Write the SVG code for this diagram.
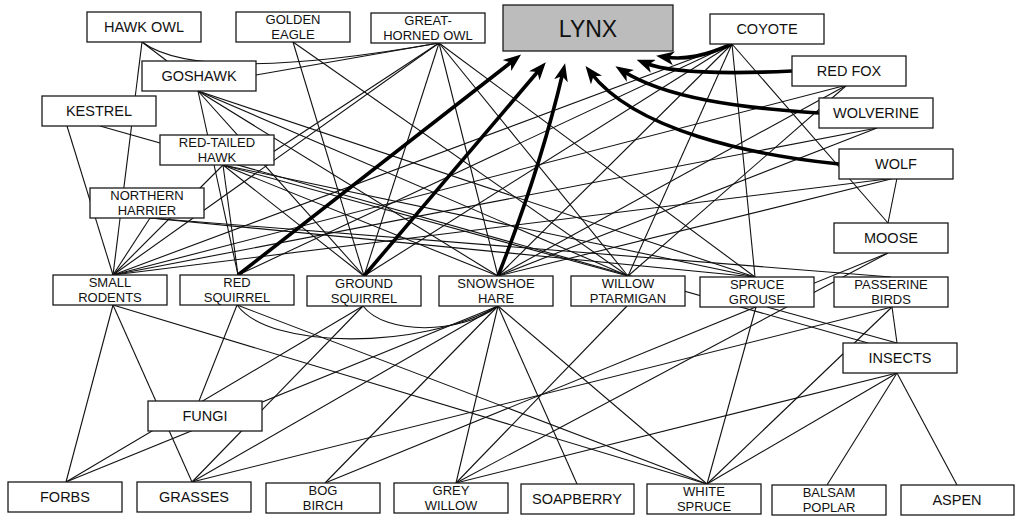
<svg xmlns="http://www.w3.org/2000/svg" width="1024" height="521" viewBox="0 0 1024 521">
<style>
.n rect{fill:#fff;stroke:#1a1a1a;stroke-width:1.3}
.n text{font-family:"Liberation Sans",Arial,Helvetica,sans-serif;font-size:14.5px;fill:#111;text-anchor:middle}
.n text.w{font-size:13px}
.e path{fill:none;stroke:#111;stroke-width:1.1}
.t path{fill:none;stroke:#000;stroke-width:3.6}
</style>
<defs>
<marker id="ah" markerUnits="userSpaceOnUse" markerWidth="18" markerHeight="14" viewBox="0 0 18 14" refX="9" refY="7" orient="auto">
<path d="M0,0 L18,7 L0,14 L5,7 Z" fill="#000"/>
</marker>
</defs>
<rect width="1024" height="521" fill="#fff"/>
<g id="connectors">
<g class="e">
<path d="M142,42 L113,275"/>
<path d="M142,42 L167,61"/>
<path d="M142,42 Q200,85 439,43"/>
<path d="M256,75 L439,43"/>
<path d="M67,126 L113,275"/>
<path d="M100,126 L868,343"/>
<path d="M293,42 L364,276"/>
<path d="M293,42 L628,276"/>
<path d="M439,43 L364,276"/>
<path d="M439,43 L498,276"/>
<path d="M439,43 L628,276"/>
<path d="M439,43 L755,277"/>
<path d="M439,43 L113,275"/>
<path d="M439,43 L273,152"/>
<path d="M198,91 L238,275"/>
<path d="M198,91 L364,276"/>
<path d="M198,91 L498,276"/>
<path d="M198,91 L628,276"/>
<path d="M198,91 L755,277"/>
<path d="M223,165 L113,275"/>
<path d="M223,165 L238,275"/>
<path d="M223,165 L364,276"/>
<path d="M223,165 L498,276"/>
<path d="M223,165 L628,276"/>
<path d="M223,165 L755,277"/>
<path d="M150,218 L113,275"/>
<path d="M150,218 L891,277"/>
<path d="M150,218 L755,277"/>
<path d="M732,44 L113,275"/>
<path d="M732,44 L238,275"/>
<path d="M732,44 L364,276"/>
<path d="M732,44 L498,276"/>
<path d="M732,44 L628,276"/>
<path d="M732,44 L755,277"/>
<path d="M732,44 L888,223"/>
<path d="M847,85 L113,275"/>
<path d="M847,85 L498,276"/>
<path d="M847,85 L628,276"/>
<path d="M877,128 L113,275"/>
<path d="M877,128 L498,276"/>
<path d="M895,178 L113,275"/>
<path d="M895,178 L498,276"/>
<path d="M897,178 L888,223"/>
<path d="M113,305 L66,482"/>
<path d="M113,305 L192,482"/>
<path d="M113,305 L707,484"/>
<path d="M237,305 L199,401"/>
<path d="M237,305 L707,484"/>
<path d="M237,305 C270,350 420,350 498,306"/>
<path d="M363,306 L66,482"/>
<path d="M363,306 L192,482"/>
<path d="M363,306 C385,335 460,335 498,306"/>
<path d="M498,306 L66,482"/>
<path d="M498,306 L192,482"/>
<path d="M498,306 L325,483"/>
<path d="M498,306 L456,483"/>
<path d="M498,306 L577,484"/>
<path d="M498,306 L707,484"/>
<path d="M627,306 L456,483"/>
<path d="M756,307 L707,484"/>
<path d="M767,307 L897,343"/>
<path d="M892,307 L897,343"/>
<path d="M892,307 L707,484"/>
<path d="M892,307 L192,482"/>
<path d="M897,373 L456,483"/>
<path d="M897,373 L707,484"/>
<path d="M897,373 L827,485"/>
<path d="M897,373 L957,485"/>
<path d="M888,253 L325,483"/>
<path d="M888,253 L456,483"/>
</g>
<g class="t">
<path d="M238,275 L514,60" marker-end="url(#ah)"/>
<path d="M364,276 L540,69" marker-end="url(#ah)"/>
<path d="M498,276 Q540,170 563,72" marker-end="url(#ah)"/>
<path d="M839,164 C750,155 635,130 591,73" marker-end="url(#ah)"/>
<path d="M819,113 C740,108 665,98 623,71" marker-end="url(#ah)"/>
<path d="M792,71 C730,74 670,73 645,63" marker-end="url(#ah)"/>
<path d="M732,44 C705,56 685,60 665,57" marker-end="url(#ah)"/>
</g>
</g>
<g id="lynx" class="n"><rect x="503" y="5" width="170" height="46" style="fill:#bcbcbc"/><text x="588" y="37" style="font-size:23px">LYNX</text></g>
<g id="hawk-owl" class="n"><rect x="87" y="12" width="114" height="30"/><text x="144" y="32">HAWK OWL</text></g>
<g id="golden-eagle" class="n"><rect x="236" y="12" width="114" height="30"/><text class="w" x="293" y="24">GOLDEN</text><text class="w" x="293" y="39">EAGLE</text></g>
<g id="great-horned-owl" class="n"><rect x="371" y="13" width="114" height="30"/><text class="w" x="428" y="25">GREAT-</text><text class="w" x="428" y="40">HORNED OWL</text></g>
<g id="coyote" class="n"><rect x="710" y="14" width="114" height="30"/><text x="767" y="34">COYOTE</text></g>
<g id="red-fox" class="n"><rect x="792" y="56" width="114" height="30"/><text x="849" y="76">RED FOX</text></g>
<g id="wolverine" class="n"><rect x="819" y="98" width="114" height="30"/><text x="876" y="118">WOLVERINE</text></g>
<g id="wolf" class="n"><rect x="839" y="149" width="114" height="30"/><text x="896" y="169">WOLF</text></g>
<g id="moose" class="n"><rect x="834" y="223" width="114" height="30"/><text x="891" y="243">MOOSE</text></g>
<g id="goshawk" class="n"><rect x="142" y="61" width="114" height="30"/><text x="199" y="81">GOSHAWK</text></g>
<g id="kestrel" class="n"><rect x="42" y="96" width="114" height="30"/><text x="99" y="116">KESTREL</text></g>
<g id="red-tailed-hawk" class="n"><rect x="160" y="135" width="114" height="30"/><text class="w" x="217" y="147">RED-TAILED</text><text class="w" x="217" y="162">HAWK</text></g>
<g id="northern-harrier" class="n"><rect x="90" y="188" width="114" height="30"/><text class="w" x="147" y="200">NORTHERN</text><text class="w" x="147" y="215">HARRIER</text></g>
<g id="small-rodents" class="n"><rect x="53" y="275" width="114" height="30"/><text class="w" x="110" y="287">SMALL</text><text class="w" x="110" y="302">RODENTS</text></g>
<g id="red-squirrel" class="n"><rect x="180" y="275" width="114" height="30"/><text class="w" x="237" y="287">RED</text><text class="w" x="237" y="302">SQUIRREL</text></g>
<g id="ground-squirrel" class="n"><rect x="307" y="276" width="114" height="30"/><text class="w" x="364" y="288">GROUND</text><text class="w" x="364" y="303">SQUIRREL</text></g>
<g id="snowshoe-hare" class="n"><rect x="439" y="276" width="114" height="30"/><text class="w" x="496" y="288">SNOWSHOE</text><text class="w" x="496" y="303">HARE</text></g>
<g id="willow-ptarmigan" class="n"><rect x="571" y="276" width="114" height="30"/><text class="w" x="628" y="288">WILLOW</text><text class="w" x="628" y="303">PTARMIGAN</text></g>
<g id="spruce-grouse" class="n"><rect x="700" y="277" width="114" height="30"/><text class="w" x="757" y="289">SPRUCE</text><text class="w" x="757" y="304">GROUSE</text></g>
<g id="passerine-birds" class="n"><rect x="834" y="277" width="114" height="30"/><text class="w" x="891" y="289">PASSERINE</text><text class="w" x="891" y="304">BIRDS</text></g>
<g id="insects" class="n"><rect x="843" y="343" width="114" height="30"/><text x="900" y="363">INSECTS</text></g>
<g id="fungi" class="n"><rect x="148" y="401" width="114" height="30"/><text x="205" y="421">FUNGI</text></g>
<g id="forbs" class="n"><rect x="8" y="482" width="114" height="30"/><text x="65" y="502">FORBS</text></g>
<g id="grasses" class="n"><rect x="137" y="482" width="114" height="30"/><text x="194" y="502">GRASSES</text></g>
<g id="bog-birch" class="n"><rect x="266" y="483" width="114" height="30"/><text class="w" x="323" y="495">BOG</text><text class="w" x="323" y="510">BIRCH</text></g>
<g id="grey-willow" class="n"><rect x="394" y="483" width="114" height="30"/><text class="w" x="451" y="495">GREY</text><text class="w" x="451" y="510">WILLOW</text></g>
<g id="soapberry" class="n"><rect x="521" y="484" width="113" height="30"/><text x="577" y="504">SOAPBERRY</text></g>
<g id="white-spruce" class="n"><rect x="647" y="484" width="114" height="30"/><text class="w" x="704" y="496">WHITE</text><text class="w" x="704" y="511">SPRUCE</text></g>
<g id="balsam-poplar" class="n"><rect x="772" y="485" width="114" height="30"/><text class="w" x="829" y="497">BALSAM</text><text class="w" x="829" y="512">POPLAR</text></g>
<g id="aspen" class="n"><rect x="901" y="485" width="113" height="30"/><text x="957" y="505">ASPEN</text></g>
</svg>
